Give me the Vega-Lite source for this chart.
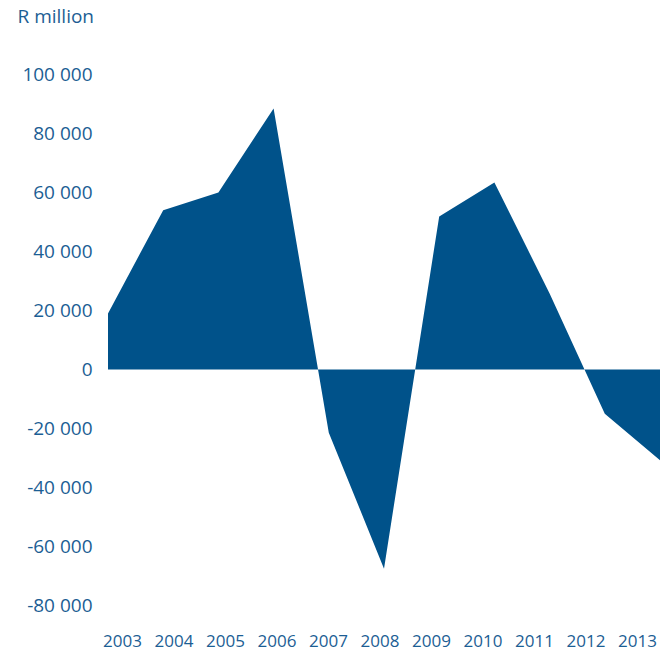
{
  "$schema": "https://vega.github.io/schema/vega-lite/v6.json",
  "autosize": "none",
  "width": 552,
  "height": 590,
  "padding": {"left": 108, "top": 45, "right": 0, "bottom": 19},
  "background": "white",
  "config": {
    "view": {"stroke": null},
    "font": "Open Sans",
    "axis": {"labelColor": "#1c5e94", "titleColor": "#1c5e94", "labelFont": "Open Sans", "titleFont": "Open Sans"}
  },
  "data": {
    "values": [
      {"year": 2003, "value": 19000},
      {"year": 2004, "value": 54000},
      {"year": 2005, "value": 60000},
      {"year": 2006, "value": 88500},
      {"year": 2007, "value": -21400},
      {"year": 2008, "value": -67500},
      {"year": 2009, "value": 51900},
      {"year": 2010, "value": 63400},
      {"year": 2011, "value": 25800},
      {"year": 2012, "value": -15000},
      {"year": 2013, "value": -30800}
    ]
  },
  "layer": [
    {
      "mark": {"type": "area", "color": "#00528a", "opacity": 1},
      "encoding": {
        "x": {"field": "year", "type": "quantitative", "scale": {"domain": [2003, 2013], "nice": false, "zero": false}, "axis": null},
        "y": {
          "field": "value", "type": "quantitative",
          "scale": {"domain": [-90000, 110000], "nice": false},
          "axis": {
            "values": [-80000, -60000, -40000, -20000, 0, 20000, 40000, 60000, 80000, 100000],
            "labelExpr": "replace(replace(format(datum.value, ','), regexp(',', 'g'), ' '), '\u2212', '-')",
            "domain": false, "ticks": false, "grid": false,
            "labelPadding": 16, "labelFontSize": 19,
            "title": "R million", "titleAngle": 0, "titleAlign": "left", "titleBaseline": "middle",
            "titleX": -91, "titleY": -29, "titleFontSize": 19, "titleFontWeight": "normal"
          }
        }
      }
    },
    {
      "mark": {"type": "point", "opacity": 0},
      "encoding": {
        "x": {
          "field": "year", "type": "ordinal",
          "scale": {"type": "point", "range": [14, 529], "padding": 0},
          "axis": {"orient": "bottom", "domain": false, "ticks": false, "labelAngle": 0, "labelPadding": -2, "labelFontSize": 17, "title": null}
        }
      }
    }
  ],
  "resolve": {"scale": {"x": "independent"}}
}
